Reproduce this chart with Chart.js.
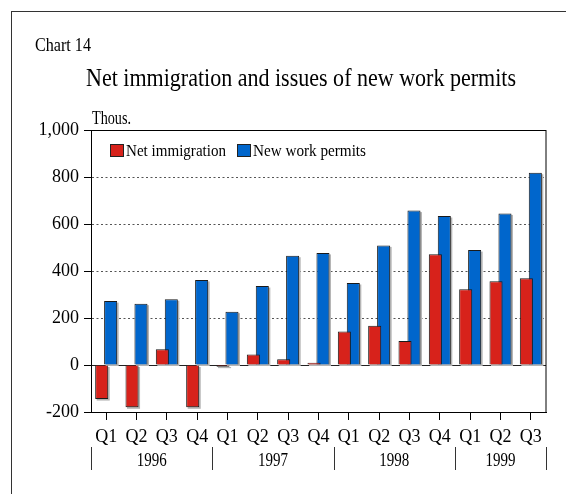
<!DOCTYPE html>
<html>
<head>
<meta charset="utf-8">
<script src="https://cdn.jsdelivr.net/npm/chart.js@4.4.1/dist/chart.umd.min.js"></script>
<style>
  html, body { margin: 0; padding: 0; background: #fff; }
  #wrap { position: relative; width: 566px; height: 494px; overflow: hidden; }
  #frame { position: absolute; left: 11px; top: 11px; width: 600px; height: 600px;
           border-top: 1px solid #333; border-left: 1px solid #333; }
  #chart { position: absolute; left: 0; top: 0; }
</style>
</head>
<body>
<div id="wrap">
  <div id="frame"></div>
  <canvas id="chart" width="566" height="494"></canvas>
</div>
<script>
// data (thousands)
const quarters = ['Q1','Q2','Q3','Q4','Q1','Q2','Q3','Q4','Q1','Q2','Q3','Q4','Q1','Q2','Q3'];
const years = ['1996', '1997', '1998', '1999'];
const yearLengths = [4, 4, 4, 3];
const netImmigration = [-145, -180, 67, -180, -7, 45, 24, 10, 143, 167, 102, 471, 322, 356, 369];
const newWorkPermits = [272, 261, 280, 362, 227, 336, 465, 477, 349, 509, 657, 634, 489, 645, 818];
const yLabelled = [-200, 0, 200, 400, 600, 800, 1000];

const RED = '#d7221b';
const BLUE = '#0066cc';
const SERIF = '"Liberation Serif", "Times New Roman", serif';

// draw a text squeezed to a given width (the original uses a narrow Times)
function fitText(ctx, text, x, y, size, width, align) {
  ctx.save();
  ctx.font = size + 'px ' + SERIF;
  const w = ctx.measureText(text).width;
  ctx.translate(x, y);
  ctx.scale(width / w, 1);
  ctx.textAlign = align || 'left';
  ctx.textBaseline = 'alphabetic';
  ctx.fillStyle = '#000';
  ctx.fillText(text, 0, 0);
  ctx.restore();
}

// light gray drop shadow behind every bar
const barShadow = {
  id: 'barShadow',
  beforeDatasetsDraw(chart) {
    const ctx = chart.ctx;
    ctx.save();
    ctx.fillStyle = '#b5b5b5';
    chart.getSortedVisibleDatasetMetas().forEach(meta => {
      meta.data.forEach(bar => {
        const p = bar.getProps(['x', 'y', 'base', 'width'], true);
        const top = Math.min(p.y, p.base);
        const h = Math.abs(p.base - p.y);
        ctx.fillRect(p.x - p.width / 2 + 1.5, top + 1.5, p.width, h);
      });
    });
    ctx.restore();
  }
};

const decorations = {
  id: 'decorations',
  afterDraw(chart) {
    const ctx = chart.ctx;
    const area = chart.chartArea;
    const x = chart.scales.x;

    // plot box
    ctx.save();
    ctx.strokeStyle = '#000';
    ctx.lineWidth = 1;
    ctx.strokeRect(area.left + 0.5, area.top + 0.5, area.right - area.left - 0.5, area.bottom - area.top);
    ctx.restore();

    // headings
    fitText(ctx, 'Chart 14', 35, 51, 18, 56);
    fitText(ctx, 'Net immigration and issues of new work permits', 86, 86, 25, 430);
    fitText(ctx, 'Thous.', 92, 124, 18, 39);

    // legend inside the plot
    const items = chart.data.datasets;
    const legendX = [area.left + 19, area.left + 146];
    const legendW = [100, 113];
    items.forEach((ds, i) => {
      ctx.save();
      ctx.fillStyle = ds.backgroundColor;
      ctx.fillRect(legendX[i], area.top + 14, 13, 12);
      ctx.strokeStyle = '#222';
      ctx.strokeRect(legendX[i] + 0.5, area.top + 14.5, 13, 12);
      ctx.restore();
      fitText(ctx, ds.label, legendX[i] + 16, area.top + 26, 17, legendW[i]);
    });

    // year row with separators
    const step = x.getPixelForValue(1) - x.getPixelForValue(0);
    let idx = 0;
    const edges = [];
    years.forEach((yr, i) => {
      const left = x.getPixelForValue(idx) - step / 2;
      const right = x.getPixelForValue(idx + yearLengths[i] - 1) + step / 2;
      edges.push(left);
      if (i === years.length - 1) edges.push(right);
      fitText(ctx, yr, (left + right) / 2, 466, 19, 30, 'center');
      idx += yearLengths[i];
    });
    ctx.save();
    ctx.strokeStyle = '#333';
    ctx.lineWidth = 1;
    edges.forEach(e => {
      ctx.beginPath();
      ctx.moveTo(Math.round(e) + 0.5, 447);
      ctx.lineTo(Math.round(e) + 0.5, 470);
      ctx.stroke();
    });
    ctx.restore();
  }
};

function gridColor(v) {
  if (v === 0) return '#222';
  if (v > -200 && v < 1000 && v % 200 === 0) return '#555';
  return 'rgba(0,0,0,0)';
}

new Chart(document.getElementById('chart'), {
  type: 'bar',
  data: {
    labels: quarters,
    datasets: [
      { label: 'Net immigration', data: netImmigration, backgroundColor: RED,
        borderColor: '#1a1a1a', borderWidth: 1 },
      { label: 'New work permits', data: newWorkPermits, backgroundColor: BLUE,
        borderColor: '#1a1a1a', borderWidth: 1 }
    ]
  },
  options: {
    responsive: false,
    animation: false,
    events: [],
    categoryPercentage: 0.59,
    barPercentage: 1.46,
    layout: { padding: { top: 130, right: 20, left: 0, bottom: 0 } },
    plugins: { legend: { display: false }, tooltip: { enabled: false } },
    scales: {
      x: {
        grid: { offset: false, drawOnChartArea: false, tickLength: 8, tickColor: '#000' },
        border: { color: '#000' },
        ticks: { color: '#000', padding: 6, maxRotation: 0, autoSkip: false,
                 font: { family: SERIF, size: 18 } },
        afterFit: s => { s.height = 82; }
      },
      y: {
        min: -200,
        max: 1000,
        ticks: {
          stepSize: 100,
          color: '#000',
          padding: 5,
          font: { family: SERIF, size: 18 },
          callback: v => yLabelled.includes(v) ? v.toLocaleString('en-US') : ''
        },
        grid: { color: c => gridColor(c.tick.value), tickColor: '#000', tickLength: 7 },
        border: { color: '#000', dash: c => (c.tick && c.tick.value !== 0) ? [2, 2.5] : [] },
        afterFit: s => { s.width = 91; }
      }
    }
  },
  plugins: [barShadow, decorations]
});
</script>
</body>
</html>
